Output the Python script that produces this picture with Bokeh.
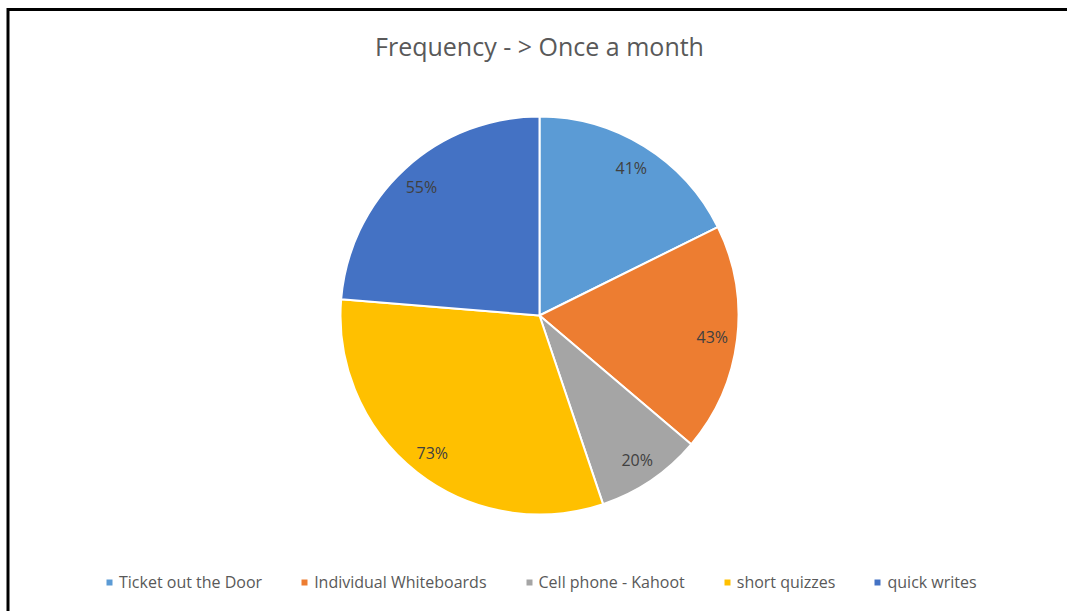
import math
from bokeh.plotting import figure
from bokeh.models import ColumnDataSource, Range1d, Legend, LegendItem, Label
from bokeh.core.properties import value
from bokeh.embed import file_html
from bokeh.resources import INLINE

categories = ["Ticket out the Door", "Individual Whiteboards", "Cell phone - Kahoot", "short quizzes", "quick writes"]
values = [41, 43, 20, 73, 55]
labels = ["41%", "43%", "20%", "73%", "55%"]
colors = ["#5B9BD5", "#ED7D31", "#A5A5A5", "#FFC000", "#4472C4"]
title_text = "Frequency - > Once a month"

FONT = "Open Sans"
W, H = 1067, 611
CX, CY, R = 539, -315, 199
BL, BT = 7.5, -9  # chart-area border: left and top edge positions

total = sum(values)
starts, ends, lx, ly = [], [], [], []
cum = 0
for v in values:
    a0 = math.pi / 2 - cum / total * 2 * math.pi
    cum += v
    a1 = math.pi / 2 - cum / total * 2 * math.pi
    starts.append(a0)
    ends.append(a1)
    mid = (a0 + a1) / 2
    lx.append(CX + 0.875 * R * math.cos(mid))
    ly.append(CY + 0.875 * R * math.sin(mid))

src = ColumnDataSource(dict(cat=categories, val=values, start=starts, end=ends,
                            color=colors, lx=lx, ly=ly, lab=labels))

p = figure(width=W, height=H, output_backend="svg", toolbar_location=None,
           x_range=Range1d(0, W), y_range=Range1d(-H, 0),
           min_border=0, outline_line_color=None, tools="")
p.axis.visible = False
p.grid.visible = False
p.background_fill_color = "white"
p.border_fill_color = "white"

# chart-area border (only top and left edges fall inside the picture)
p.line(x=[BL, BL, W + 10], y=[-H - 10, BT, BT], line_color="black", line_width=3,
       line_join="miter")

r = p.wedge(x=CX, y=CY, radius=R, start_angle="start", end_angle="end", direction="clock",
            fill_color="color", line_color="white", line_width=2, source=src)

p.text(x="lx", y="ly", text="lab", source=src, text_align="center", text_baseline="middle",
       text_font=value(FONT), text_font_size="16px", text_color="#404040")

p.add_layout(Label(x=CX, y=-45, text=title_text, text_align="center", text_baseline="middle",
                   text_font=FONT, text_font_size="25px", text_color="#595959"))

items = [LegendItem(label=c, renderers=[r], index=i) for i, c in enumerate(categories)]
legend = Legend(items=items, orientation="horizontal", location=(104, 18),
                label_text_font=FONT, label_text_font_size="16px", label_text_color="#595959",
                glyph_width=10, glyph_height=10, label_standoff=5, spacing=37,
                padding=5, margin=0, border_line_color=None, background_fill_alpha=0)
p.add_layout(legend)

open("out.html", "w").write(file_html(p, INLINE))
